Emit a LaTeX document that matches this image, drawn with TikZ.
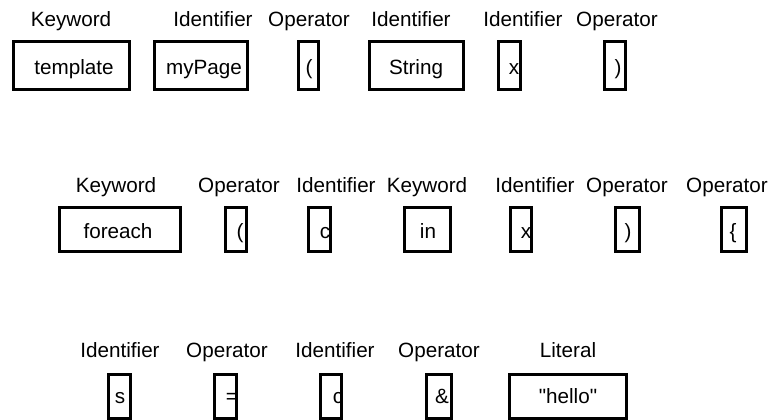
\documentclass[tikz,border=0pt]{standalone}
\usepackage{fontspec}
\setmainfont{Liberation Sans}[Ligatures=TeXOff]
\usetikzlibrary{positioning}
\tikzset{
  tokbox/.style  = {draw, line width=2.25pt, inner sep=0pt,
                    minimum height=33pt},
  toktext/.style = {inner sep=0pt, anchor=base,
                    font=\fontsize{15.5}{18}\selectfont},
  kind/.style    = {inner sep=0pt, anchor=base,
                    font=\fontsize{15.5}{18}\selectfont},
}

\begin{document}
\begin{tikzpicture}[x=0.75pt, y=-0.75pt]
  \useasboundingbox (0,0) rectangle (782,419);

  % first line: template myPage(String x)
  \node[kind] (k1) at (71,26)  {Keyword};
  \node[kind] (k2) at (213,26) {Identifier};
  \node[kind] (k3) at (309,26) {Operator};
  \node[kind] (k4) at (411,26) {Identifier};
  \node[kind] (k5) at (523,26) {Identifier};
  \node[kind] (k6) at (617,26) {Operator};
  \node[tokbox, minimum height=36pt, minimum width=87pt] (b1) at (71.5,65.5) {};
  \node[tokbox, minimum height=36pt, minimum width=70pt] (b2) at (201,65.5)  {};
  \node[tokbox, minimum height=36pt, minimum width=15pt] (b3) at (308.5,65.5) {};
  \node[tokbox, minimum height=36pt, minimum width=70pt] (b4) at (416.5,65.5) {};
  \node[tokbox, minimum height=36pt, minimum width=16pt] (b5) at (509.5,65.5) {};
  \node[tokbox, minimum height=36pt, minimum width=16pt] (b6) at (615,65.5)   {};
  \node[toktext] (t1) at (74,74)  {template};
  \node[toktext] (t2) at (204,74) {myPage};
  \node[toktext] (t3) at (309,74) {(};
  \node[toktext] (t4) at (416,74) {String};
  \node[toktext] (t5) at (514,74) {x};
  \node[toktext] (t6) at (618,74) {)};

  % second line: foreach(c in x){
  \node[kind] (k7)  at (116,192) {Keyword};
  \node[kind] (k8)  at (239,192) {Operator};
  \node[kind] (k9)  at (336,192) {Identifier};
  \node[kind] (k10) at (427,192) {Keyword};
  \node[kind] (k11) at (535,192) {Identifier};
  \node[kind] (k12) at (627,192) {Operator};
  \node[kind] (k13) at (727,192) {Operator};
  \node[tokbox, minimum width=91pt] (b7)  at (120,229.5)   {};
  \node[tokbox, minimum width=16pt] (b8)  at (236,229.5)   {};
  \node[tokbox, minimum width=16pt] (b9)  at (319.5,229.5) {};
  \node[tokbox, minimum width=35pt] (b10) at (427.5,229.5) {};
  \node[tokbox, minimum width=16pt] (b11) at (521,229.5)   {};
  \node[tokbox, minimum width=18pt] (b12) at (627.5,229.5) {};
  \node[tokbox, minimum width=19pt] (b13) at (734,229.5)   {};
  \node[toktext] (t7)  at (118,238) {foreach};
  \node[toktext] (t8)  at (240,238) {(};
  \node[toktext] (t9)  at (325,238) {c};
  \node[toktext] (t10) at (428,238) {in};
  \node[toktext] (t11) at (526,238) {x};
  \node[toktext] (t12) at (628,238) {)};
  \node[toktext] (t13) at (733,238) {\{};

  % third line: s = c & "hello"
  \node[kind] (k14) at (120,357) {Identifier};
  \node[kind] (k15) at (227,357) {Operator};
  \node[kind] (k16) at (335,357) {Identifier};
  \node[kind] (k17) at (439,357) {Operator};
  \node[kind] (k18) at (568,357) {Literal};
  \node[tokbox, minimum width=16pt] (b14) at (119.5,396.5) {};
  \node[tokbox, minimum width=16pt] (b15) at (225.5,396.5) {};
  \node[tokbox, minimum width=16pt] (b16) at (331,396.5)   {};
  \node[tokbox, minimum width=19pt] (b17) at (439,396.5)   {};
  \node[tokbox, minimum width=88pt] (b18) at (568,396.5)   {};
  \node[toktext] (t14) at (120,403) {s};
  \node[toktext] (t15) at (232,403) {=};
  \node[toktext] (t16) at (338,403) {c};
  \node[toktext] (t17) at (442,403) {\&};
  \node[toktext] (t18) at (568,403) {"hello"};
\end{tikzpicture}
\end{document}
